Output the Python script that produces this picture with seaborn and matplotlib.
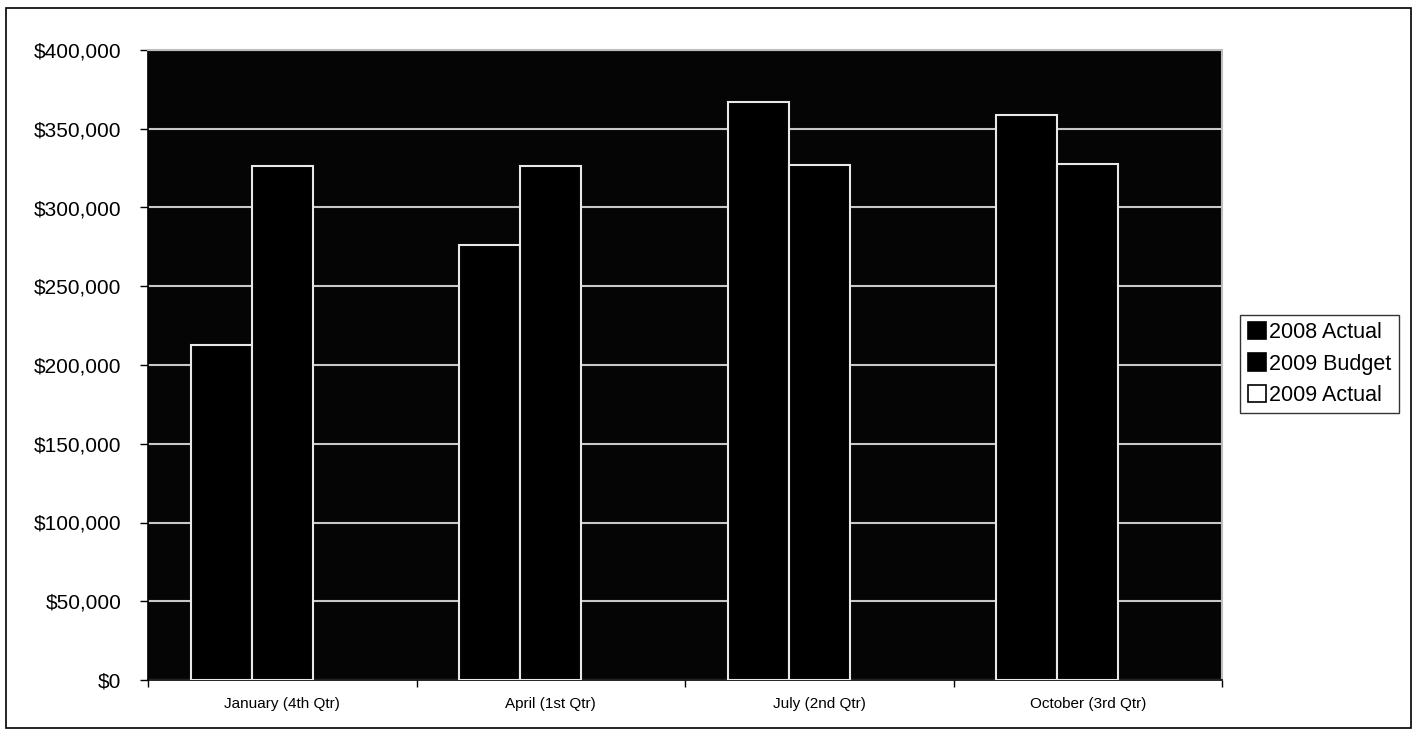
import matplotlib
matplotlib.use("Agg")
import matplotlib.pyplot as plt
import seaborn as sns
import pandas as pd
from matplotlib.patches import Patch, Rectangle
from matplotlib.ticker import FuncFormatter, FixedLocator

categories = ["January (4th Qtr)", "April (1st Qtr)", "July (2nd Qtr)", "October (3rd Qtr)"]
series_names = ["2008 Actual", "2009 Budget", "2009 Actual"]
actual_2008 = [213000, 276000, 367000, 359000]
budget_2009 = [326500, 326500, 327000, 327500]
actual_2009 = [0, 0, 0, 0]
y_ticks = [0, 50000, 100000, 150000, 200000, 250000, 300000, 350000, 400000]

rows = []
for name, vals in zip(series_names, [actual_2008, budget_2009, actual_2009]):
    for c, v in zip(categories, vals):
        rows.append({"Month": c, "Series": name, "Value": v})
df = pd.DataFrame(rows)

sns.set_theme(style="white")
plt.rcParams['font.family'] = ['Liberation Sans', 'DejaVu Sans']
plt.rcParams['text.color'] = 'black'
plt.rcParams['xtick.color'] = 'black'
plt.rcParams['ytick.color'] = 'black'

fig = plt.figure(figsize=(14.16, 7.38), dpi=100)
ax = fig.add_axes([148/1416, 1-680/738, (1222-148)/1416, (680-50)/738])
ax.set_facecolor("#050505")

palette = {"2008 Actual": "#000000", "2009 Budget": "#000000", "2009 Actual": "#ffffff"}
sns.barplot(data=df, x="Month", y="Value", hue="Series", order=categories,
            hue_order=series_names, palette=palette, width=0.68, gap=0,
            edgecolor="#e8e8e8", linewidth=1.5, saturation=1, ax=ax, legend=False,
            zorder=3)
for p in ax.patches:
    if p.get_height() == 0:
        p.set_edgecolor("none")

ax.set_ylim(0, 400000)
ax.set_xlim(-0.5, 3.5)
ax.set_yticks(y_ticks)
ax.yaxis.set_major_formatter(FuncFormatter(lambda v, p: f"${v:,.0f}"))
ax.tick_params(axis="y", labelsize=15, colors="black", labelcolor="black", length=6, width=1,
               direction="out", left=True, pad=13)
ax.tick_params(axis="x", which="major", labelsize=11, labelcolor="black", length=0, pad=12)
ax.xaxis.set_minor_locator(FixedLocator([-0.5, 0.5, 1.5, 2.5, 3.5]))
ax.tick_params(axis="x", which="minor", length=5, width=1, color="black", bottom=True)
ax.set_xlabel("")
ax.set_ylabel("")
ax.yaxis.grid(True, color="#c8c8c8", linewidth=1.5, zorder=1)
ax.set_axisbelow(True)
for s in ["top", "right"]:
    ax.spines[s].set_color("#bdbdbd")
    ax.spines[s].set_linewidth(1.5)
for s in ["left", "bottom"]:
    ax.spines[s].set_color("black")
    ax.spines[s].set_linewidth(1.2)

handles = [Patch(facecolor=palette[n], edgecolor="black", linewidth=1.2) for n in series_names]
leg = fig.legend(handles, series_names, loc="center left",
                 bbox_to_anchor=(1240/1416, 1-364/738), frameon=True, fancybox=False,
                 fontsize=15.5, handlelength=0.85, handleheight=0.85, handletextpad=0.15,
                 borderpad=0.35, labelspacing=0.48, borderaxespad=0, labelcolor="black")
leg.get_frame().set_edgecolor("black")
leg.get_frame().set_linewidth(1)

fig.patches.append(Rectangle((6/1416, 10/738), 1405/1416, 720/738, transform=fig.transFigure,
                             fill=False, edgecolor="black", linewidth=1.2))

fig.savefig("out.png", dpi=100)
